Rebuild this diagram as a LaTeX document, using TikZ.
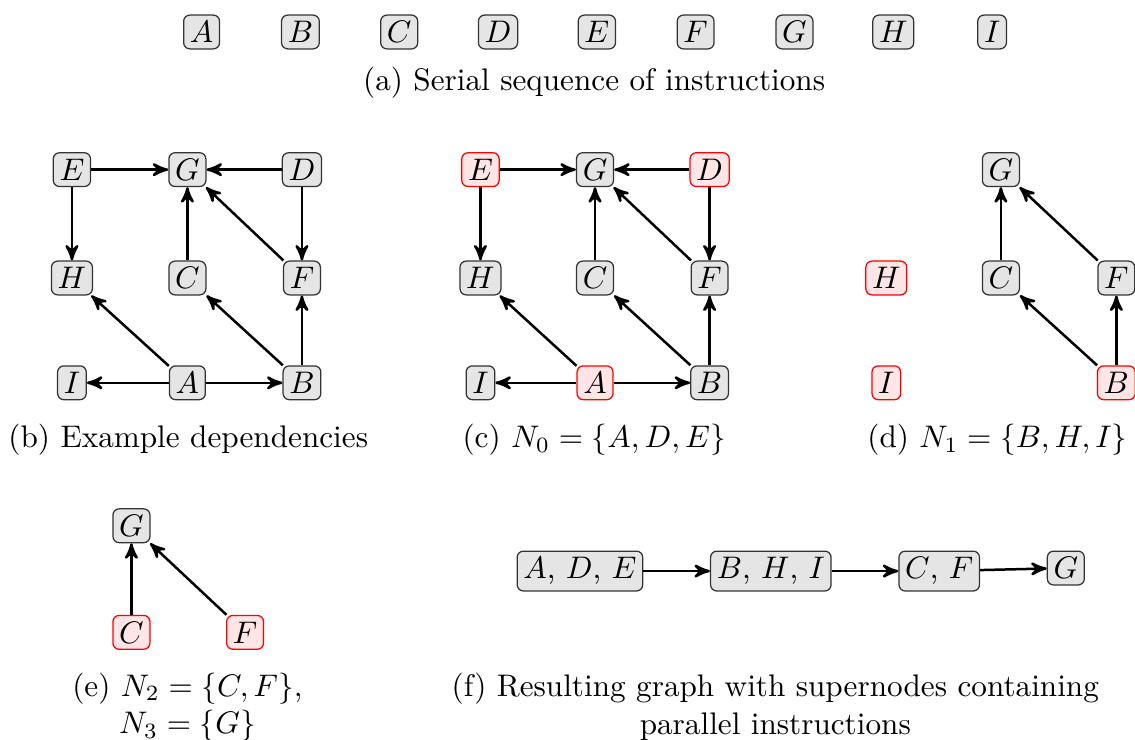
\documentclass[tikz,border=0pt]{standalone}
\usetikzlibrary{arrows,positioning}

\tikzset{
    instr/.style={draw=black!80, fill=black!10, rounded corners=2pt, inner sep=2pt},
    ready/.style={instr, draw=red, fill=red!10},
    dep/.style={->, >=stealth', thick},
}

\begin{document}
\begin{tikzpicture}
    \useasboundingbox (0,0) rectangle (12.78,-8.33);
    % (a) serial order
    \foreach \n [count=\i] in {A,B,C,D,E,F,G,H,I}
        \node[instr] (a\n) at ({2.27+1.1126*(\i-1)},-0.36) {$\n$};
    \node (capa) at (6.69,-0.935) {(a) Serial sequence of instructions};

    % (b) dependencies
    \node[instr] (bE) at (0.81,-1.91) {$E$};
    \node[instr] (bG) at (2.11,-1.91) {$G$};
    \node[instr] (bD) at (3.40,-1.91) {$D$};
    \node[instr] (bH) at (0.81,-3.13) {$H$};
    \node[instr] (bC) at (2.11,-3.13) {$C$};
    \node[instr] (bF) at (3.40,-3.13) {$F$};
    \node[instr] (bI) at (0.81,-4.31) {$I$};
    \node[instr] (bA) at (2.11,-4.31) {$A$};
    \node[instr] (bB) at (3.40,-4.31) {$B$};
    \foreach \s/\t in {E/G,D/G,E/H,C/G,F/G,D/F,A/H,B/C,B/F,A/I,A/B}
        \draw[dep] (b\s) -- (b\t);
    \node (capb) at (2.12,-4.955) {(b) Example dependencies};

    % (c) N_0
    \node[ready] (cE) at (5.41,-1.91) {$E$};
    \node[instr] (cG) at (6.70,-1.91) {$G$};
    \node[ready] (cD) at (7.99,-1.91) {$D$};
    \node[instr] (cH) at (5.41,-3.13) {$H$};
    \node[instr] (cC) at (6.70,-3.13) {$C$};
    \node[instr] (cF) at (7.99,-3.13) {$F$};
    \node[instr] (cI) at (5.41,-4.31) {$I$};
    \node[ready] (cA) at (6.70,-4.31) {$A$};
    \node[instr] (cB) at (7.99,-4.31) {$B$};
    \foreach \s/\t in {E/G,D/G,E/H,C/G,F/G,D/F,A/H,B/C,B/F,A/I,A/B}
        \draw[dep] (c\s) -- (c\t);
    \node (capc) at (6.69,-4.955) {(c) $N_0 = \{A, D, E\}$};

    % (d) N_1
    \node[instr] (dG) at (11.27,-1.91) {$G$};
    \node[ready] (dH) at (9.98,-3.13) {$H$};
    \node[instr] (dC) at (11.27,-3.13) {$C$};
    \node[instr] (dF) at (12.57,-3.13) {$F$};
    \node[ready] (dI) at (9.98,-4.31) {$I$};
    \node[ready] (dB) at (12.57,-4.31) {$B$};
    \foreach \s/\t in {C/G,F/G,B/C,B/F}
        \draw[dep] (d\s) -- (d\t);
    \node (capd) at (11.23,-4.955) {(d) $N_1 = \{B, H, I\}$};

    % (e) N_2, N_3
    \node[instr] (eG) at (1.48,-5.92) {$G$};
    \node[ready] (eC) at (1.48,-7.12) {$C$};
    \node[ready] (eF) at (2.76,-7.12) {$F$};
    \draw[dep] (eC) -- (eG);
    \draw[dep] (eF) -- (eG);
    \node[align=center] (cape) at (2.11,-7.96)
        {(e) $N_2 = \{C, F\}$,\\ $N_3 = \{G\}$};

    % (f) supernodes
    \node[instr] (fADE) at (6.53,-6.43) {$A$, $D$, $E$};
    \node[instr, base right=0.75cm of fADE] (fBHI) {$B$, $H$, $I$};
    \node[instr, base right=0.75cm of fBHI] (fCF) {$C$, $F$};
    \node[instr, base right=0.75cm of fCF] (fG) {$G$};
    \draw[dep] (fADE) -- (fBHI);
    \draw[dep] (fBHI) -- (fCF);
    \draw[dep] (fCF) -- (fG);
    \node[align=center] (capf) at (8.73,-7.96)
        {(f) Resulting graph with supernodes containing\\ parallel instructions};
\end{tikzpicture}
\end{document}
